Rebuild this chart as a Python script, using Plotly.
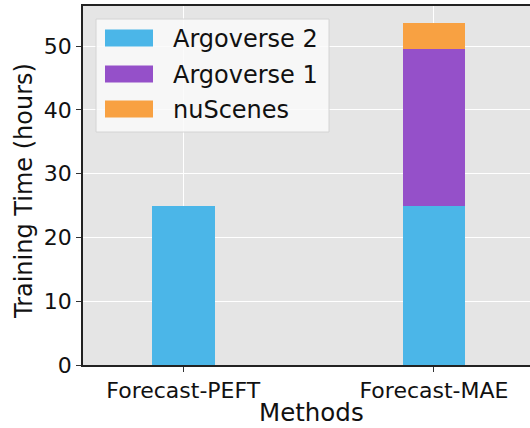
import plotly.graph_objects as go

methods = ["Forecast-PEFT", "Forecast-MAE"]
series_names = ["Argoverse 2", "Argoverse 1", "nuScenes"]
argoverse2 = [25.0, 25.0]
argoverse1 = [0.0, 24.5]
nuscenes = [0.0, 4.2]
colors = ["#4bb6e8", "#9550c9", "#f8a142"]
y_ticks = [0, 10, 20, 30, 40, 50]

W, H = 530, 428
L, R, T, B = 83, 0, 6, 63
PW, PH = W - L - R, H - T - B


def px(x):
    return (x - L) / PW


def py(y):
    return 1 - (y - T) / PH


fig = go.Figure()
xs = list(range(len(methods)))
for name, vals, col in zip(series_names, [argoverse2, argoverse1, nuscenes], colors):
    fig.add_trace(go.Bar(x=xs, y=vals, name=name, width=0.25,
                         marker=dict(color=col, line=dict(width=0)),
                         showlegend=False))

# manual legend (matplotlib-like wide swatches)
shapes = [dict(type="rect", xref="paper", yref="paper",
               x0=px(96), x1=px(329), y0=py(132), y1=py(19),
               fillcolor="rgba(250,250,250,0.85)", line=dict(color="#d4d4d4", width=1),
               layer="above")]
annotations = []
rows = [38, 74, 109]
for name, col, yc in zip(series_names, colors, rows):
    shapes.append(dict(type="rect", xref="paper", yref="paper",
                       x0=px(105), x1=px(153), y0=py(yc + 8.5), y1=py(yc - 8.5),
                       fillcolor=col, line=dict(width=0), layer="above"))
    annotations.append(dict(text=name, xref="paper", yref="paper",
                            x=px(171), y=py(yc + 1), xanchor="left", yanchor="middle",
                            showarrow=False, font=dict(size=24, color="#111111",
                                                        family="DejaVu Sans")))

# axis titles
annotations.append(dict(text="Methods", xref="paper", yref="paper",
                        x=px(311), y=py(412), xanchor="center", yanchor="middle",
                        showarrow=False, font=dict(size=24.5, color="#111111", family="DejaVu Sans")))
annotations.append(dict(text="Training Time (hours)", xref="paper", yref="paper",
                        x=px(24), y=py(191), xanchor="center", yanchor="middle", textangle=-90,
                        showarrow=False, font=dict(size=24, color="#111111", family="DejaVu Sans")))

fig.update_layout(
    width=W, height=H, barmode="stack",
    margin=dict(l=L, r=R, t=T, b=B, autoexpand=False),
    paper_bgcolor="white", plot_bgcolor="#e5e5e5",
    font=dict(family="DejaVu Sans", color="#111111"),
    shapes=shapes, annotations=annotations,
    xaxis=dict(range=[-0.4, -0.4 + PW / 250.7], tickvals=xs, ticktext=methods,
               automargin=False,
               showgrid=True, gridcolor="white", gridwidth=1,
               showline=True, mirror=True, linecolor="#222222", linewidth=1.5,
               ticks="outside", ticklen=5, tickcolor="#333333",
               tickfont=dict(size=22, color="#111111"), zeroline=False),
    yaxis=dict(range=[0, 56.3], tickvals=y_ticks, automargin=False,
               showgrid=True, gridcolor="white", gridwidth=1,
               showline=True, linecolor="#222222", linewidth=1.5,
               ticks="outside", ticklen=5, tickcolor="#333333",
               tickfont=dict(size=22, color="#111111"), zeroline=False),
)

fig.write_html("out.html", config={"responsive": False, "displayModeBar": False},
               post_script="document.body.style.margin='0';document.body.style.padding='0';")
